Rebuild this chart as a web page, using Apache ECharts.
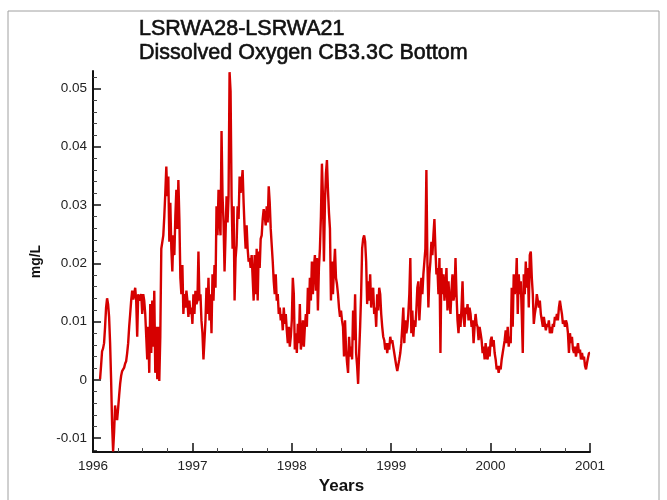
<!DOCTYPE html>
<html><head><meta charset="utf-8">
<script src="https://cdn.jsdelivr.net/npm/echarts@6/dist/echarts.min.js"></script>
<style>html,body{margin:0;padding:0;background:#fff}#c{width:667px;height:500px}</style>
</head><body><div id="c"></div>
<script>
const titleLines = ['LSRWA28-LSRWA21', 'Dissolved Oxygen CB3.3C Bottom'];
const xAxisName = 'Years';
const yAxisName = 'mg/L';
const xTickLabels = [1996, 1997, 1998, 1999, 2000, 2001];
const yTickLabels = [-0.01, 0, 0.01, 0.02, 0.03, 0.04, 0.05];
// regularly sampled series (decimal years)
const seriesAStart = 1996.071;
const seriesBStart = 1998.546;
const sampleStep = 0.0101;
// 1996.07 - 1996.69
const oxygenA1 = [
 0.0001, 0.0024, 0.0049, 0.0054, 0.0063, 0.0091, 0.0124, 0.0140,
 0.0130, 0.0108, 0.0063, 0.0001, -0.0077, -0.0123, -0.0089, -0.0044,
 -0.0061, -0.0069, -0.0049, -0.0027, -0.0007, 0.0007, 0.0015, 0.0018,
 0.0021, 0.0028, 0.0032, 0.0046, 0.0063, 0.0091, 0.0113, 0.0136,
 0.0153, 0.0138, 0.0147, 0.0158, 0.0136, 0.0074, 0.0147, 0.0136,
 0.0138, 0.0147, 0.0113, 0.0147, 0.0136, 0.0113, 0.0074, 0.0035,
 0.0091, 0.0012, 0.0130, 0.0046, 0.0136, 0.0057, 0.0153, 0.0012,
 0.0091, 0.0001, 0.0091, -0.0002, 0.0074, 0.0225
];
// 1996.70 - 1998.54
const oxygenA2 = [
 0.0225, 0.0248, 0.0281, 0.0321, 0.0366, 0.0315, 0.0349, 0.0237,
 0.0304, 0.0225, 0.0186, 0.0248, 0.0214, 0.0281, 0.0326, 0.0259,
 0.0343, 0.0276, 0.0175, 0.0147, 0.0197, 0.0113, 0.0147, 0.0124,
 0.0153, 0.0136, 0.0108, 0.0136, 0.0113, 0.0124, 0.0096, 0.0147,
 0.0113, 0.0153, 0.0130, 0.0136, 0.0220, 0.0136, 0.0147, 0.0102,
 0.0080, 0.0035, 0.0068, 0.0102, 0.0158, 0.0113, 0.0175, 0.0102,
 0.0147, 0.0080, 0.0181, 0.0136, 0.0197, 0.0158, 0.0298, 0.0248,
 0.0326, 0.0276, 0.0248, 0.0427, 0.0315, 0.0270, 0.0186, 0.0248,
 0.0315, 0.0270, 0.0315, 0.0528, 0.0495, 0.0315, 0.0225, 0.0298,
 0.0136, 0.0209, 0.0231, 0.0298, 0.0276, 0.0349, 0.0321, 0.0338,
 0.0360, 0.0304, 0.0259, 0.0225, 0.0265, 0.0225, 0.0203, 0.0209,
 0.0192, 0.0214, 0.0175, 0.0136, 0.0214, 0.0147, 0.0225, 0.0136,
 0.0220, 0.0192, 0.0242, 0.0248, 0.0276, 0.0293, 0.0281, 0.0265,
 0.0298, 0.0270, 0.0332, 0.0304, 0.0259, 0.0231, 0.0203, 0.0169,
 0.0147, 0.0181, 0.0136, 0.0147, 0.0113, 0.0124, 0.0102, 0.0113,
 0.0085, 0.0124, 0.0096, 0.0113, 0.0085, 0.0063, 0.0091, 0.0057,
 0.0074, 0.0102, 0.0175, 0.0147, 0.0052, 0.0080, 0.0046, 0.0096,
 0.0063, 0.0130, 0.0052, 0.0068, 0.0102, 0.0057, 0.0091, 0.0113,
 0.0091, 0.0158, 0.0113, 0.0175, 0.0136, 0.0203, 0.0147, 0.0192,
 0.0214, 0.0153, 0.0209, 0.0119, 0.0192, 0.0225, 0.0281, 0.0371,
 0.0315, 0.0203, 0.0304, 0.0354, 0.0377, 0.0326, 0.0287, 0.0259,
 0.0136, 0.0203, 0.0147, 0.0192, 0.0225, 0.0175, 0.0164, 0.0147,
 0.0124, 0.0108, 0.0119, 0.0102, 0.0091, 0.0040, 0.0102
];
// 1998.55 - 2001.00
const oxygenB = [
 0.0052, 0.0029, 0.0012, 0.0074, 0.0040, 0.0057, 0.0035, 0.0119,
 0.0068, 0.0147, 0.0046, 0.0024, -0.0007, 0.0046, 0.0091, 0.0147,
 0.0225, 0.0242, 0.0248, 0.0237, 0.0203, 0.0130, 0.0169, 0.0136,
 0.0181, 0.0124, 0.0153, 0.0158, 0.0113, 0.0124, 0.0091, 0.0147,
 0.0119, 0.0158, 0.0147, 0.0113, 0.0091, 0.0074, 0.0068, 0.0052,
 0.0063, 0.0046, 0.0063, 0.0052, 0.0074, 0.0063, 0.0068, 0.0057,
 0.0046, 0.0035, 0.0024, 0.0015, 0.0018, 0.0035, 0.0046, 0.0063,
 0.0091, 0.0124, 0.0063, 0.0102, 0.0080, 0.0091, 0.0113, 0.0147,
 0.0209, 0.0080, 0.0119, 0.0074, 0.0102, 0.0091, 0.0119, 0.0158,
 0.0169, 0.0102, 0.0136, 0.0175, 0.0147, 0.0181, 0.0203, 0.0225,
 0.0360, 0.0203, 0.0124, 0.0181, 0.0203, 0.0237, 0.0214, 0.0248,
 0.0276, 0.0225, 0.0181, 0.0192, 0.0147, 0.0209, 0.0046, 0.0192,
 0.0147, 0.0181, 0.0136, 0.0158, 0.0192, 0.0119, 0.0169, 0.0136,
 0.0113, 0.0153, 0.0181, 0.0136, 0.0147, 0.0209, 0.0147, 0.0102,
 0.0080, 0.0113, 0.0091, 0.0124, 0.0169, 0.0108, 0.0091, 0.0124,
 0.0113, 0.0130, 0.0102, 0.0124, 0.0113, 0.0091, 0.0102, 0.0063,
 0.0091, 0.0113, 0.0096, 0.0091, 0.0068, 0.0091, 0.0080, 0.0068,
 0.0046, 0.0057, 0.0035, 0.0063, 0.0040, 0.0035, 0.0057, 0.0040,
 0.0068, 0.0074, 0.0057, 0.0068, 0.0046, 0.0035, 0.0018, 0.0024,
 0.0012, 0.0024, 0.0018, 0.0035, 0.0046, 0.0057, 0.0068, 0.0085,
 0.0063, 0.0091, 0.0057, 0.0074, 0.0063, 0.0158, 0.0091, 0.0181,
 0.0147, 0.0158, 0.0209, 0.0113, 0.0181, 0.0147, 0.0169, 0.0113,
 0.0046, 0.0181, 0.0147, 0.0203, 0.0158, 0.0192, 0.0124, 0.0214,
 0.0220, 0.0175, 0.0147, 0.0096, 0.0113, 0.0124, 0.0147, 0.0136,
 0.0124, 0.0136, 0.0113, 0.0102, 0.0091, 0.0108, 0.0096, 0.0085,
 0.0096, 0.0091, 0.0102, 0.0080, 0.0091, 0.0080, 0.0096, 0.0091,
 0.0108, 0.0102, 0.0113, 0.0102, 0.0124, 0.0136, 0.0124, 0.0113,
 0.0096, 0.0102, 0.0091, 0.0102, 0.0096, 0.0080, 0.0046, 0.0080,
 0.0063, 0.0074, 0.0052, 0.0046, 0.0057, 0.0040, 0.0052, 0.0063,
 0.0046, 0.0052, 0.0035, 0.0046, 0.0035, 0.0040, 0.0024, 0.0018,
 0.0029, 0.0038, 0.0046, 0.0046
];

const FONT = '"Liberation Sans", Arial, Helvetica, sans-serif';
const seriesA = oxygenA1.concat(oxygenA2);
const lineData = [];
seriesA.forEach((v, i) => lineData.push([seriesAStart + i * sampleStep, v]));
oxygenB.forEach((v, i) => lineData.push([seriesBStart + i * sampleStep, v]));

const yLabelSet = new Set(yTickLabels.map(v => v.toFixed(3)));
const chart = echarts.init(document.getElementById('c'), null, {renderer: 'canvas'});
chart.setOption({
  animation: false,
  backgroundColor: '#ffffff',
  title: {
    text: titleLines.join('\n'),
    left: 139, top: 17, padding: 0,
    textStyle: {fontFamily: FONT, fontSize: 21.5, fontWeight: 'normal', color: '#111', lineHeight: 24,
      textBorderColor: '#111', textBorderWidth: 0.6}
  },
  grid: {left: 93, right: 77, top: 71, bottom: 41},
  xAxis: {
    type: 'value', min: xTickLabels[0], max: xTickLabels[xTickLabels.length - 1], interval: 1,
    name: xAxisName, nameLocation: 'middle', nameGap: 20,
    nameTextStyle: {fontFamily: FONT, fontSize: 17, fontWeight: 'bold', color: '#111'},
    axisLine: {show: true, onZero: false, lineStyle: {color: '#111', width: 2}},
    axisTick: {show: true, inside: true, length: 9, lineStyle: {color: '#111', width: 1.5}},
    minorTick: {show: true, splitNumber: 4, length: 4, lineStyle: {color: '#444', width: 1}},
    axisLabel: {margin: 7, fontFamily: FONT, fontSize: 13.5, color: '#222', formatter: v => String(Math.round(v))},
    splitLine: {show: false}
  },
  yAxis: {
    type: 'value', min: -0.0124, max: 0.053, splitNumber: 6,
    name: yAxisName, nameLocation: 'middle', nameGap: 50,
    nameTextStyle: {fontFamily: FONT, fontSize: 14, fontWeight: 'bold', color: '#111'},
    axisLine: {show: true, onZero: false, lineStyle: {color: '#111', width: 2}},
    axisTick: {show: true, inside: true, length: 8, customValues: yTickLabels, lineStyle: {color: '#111', width: 1.5}},
    minorTick: {show: true, splitNumber: 5, length: 4, lineStyle: {color: '#444', width: 1}},
    axisLabel: {
      margin: 6, fontFamily: FONT, fontSize: 13.5, color: '#222', customValues: yTickLabels,
      formatter: v => yLabelSet.has(v.toFixed(3)) && Math.abs(v * 1000 - Math.round(v * 100) * 10) < 0.01 ? String(Math.round(v * 100) / 100) : ''
    },
    splitLine: {show: false}
  },
  series: [{
    type: 'line', data: lineData, symbol: 'none', showSymbol: false,
    lineStyle: {color: '#d60000', width: 2.4}, itemStyle: {color: '#d60000'}
  }],
  graphic: [{
    type: 'rect', silent: true, z: -1,
    shape: {x: 8, y: 11, width: 651, height: 495},
    style: {fill: 'none', stroke: '#a0a0a0', lineWidth: 1}
  }]
});
</script></body></html>
